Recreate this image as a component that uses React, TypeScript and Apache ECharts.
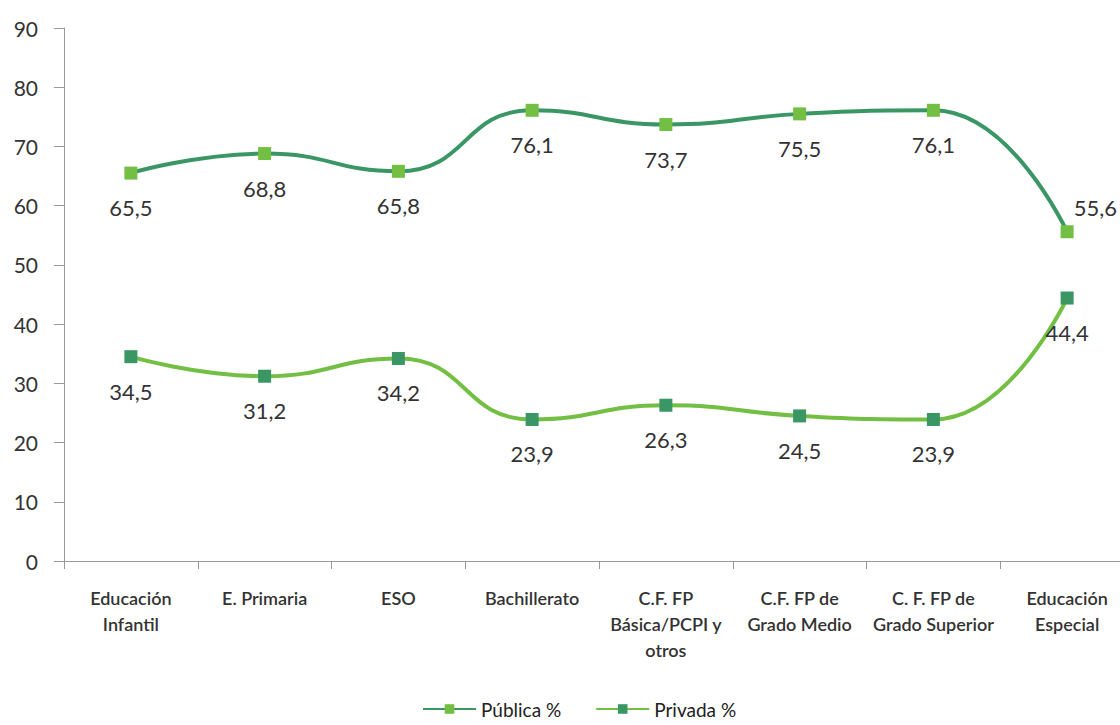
import React, { useEffect, useRef } from "react";
import * as echarts from "echarts";

const categories = [
  "Educación\nInfantil",
  "E. Primaria",
  "ESO",
  "Bachillerato",
  "C.F. FP\nBásica/PCPI y\notros",
  "C.F. FP de\nGrado Medio",
  "C. F. FP de\nGrado Superior",
  "Educación\nEspecial",
];
const publica = [65.5, 68.8, 65.8, 76.1, 73.7, 75.5, 76.1, 55.6];
const privada = [34.5, 31.2, 34.2, 23.9, 26.3, 24.5, 23.9, 44.4];
const seriesNames = ["Pública %", "Privada %"];

const DARK = "#3a9664";
const LIGHT = "#72bf44";
const FONT = "Lato, 'Open Sans', sans-serif";

const fmt = (p: any) => String(p.value).replace(".", ",");

export default function App() {
  const ref = useRef<HTMLDivElement>(null);
  useEffect(() => {
    if (!ref.current) return;
    const chart = echarts.init(ref.current, undefined, { renderer: "svg" });
    const labelBase = {
      show: true,
      position: "bottom" as const,
      distance: 17,
      fontSize: 22,
      fontFamily: FONT,
      color: "#333",
      formatter: fmt,
    };
    const pubData = publica.map((v, i) =>
      i === publica.length - 1
        ? { value: v, label: { position: "right", distance: 0, offset: [0, -24] } }
        : v
    );
    chart.setOption({
      animation: false,
      textStyle: { fontFamily: FONT },
      grid: {
        left: 64,
        top: 28,
        width: 1070,
        height: 533,
        outerBoundsMode: "none",
        containLabel: false,
      },
      legend: {
        data: seriesNames,
        left: 422,
        top: 699,
        padding: 0,
        itemWidth: 53,
        itemHeight: 12,
        itemGap: 34,
        textStyle: { fontSize: 19, fontFamily: FONT, color: "#222", lineHeight: 20 },
      },
      xAxis: {
        type: "category",
        data: categories,
        boundaryGap: true,
        axisLine: { lineStyle: { color: "#999", width: 1 } },
        axisTick: { show: true, length: 8, lineStyle: { color: "#999" } },
        axisLabel: {
          interval: 0,
          margin: 24,
          fontSize: 18,
          fontWeight: 600,
          fontFamily: FONT,
          color: "#333",
          lineHeight: 26,
          hideOverlap: false,
        },
      },
      yAxis: {
        type: "value",
        min: 0,
        max: 90,
        interval: 10,
        splitLine: { show: false },
        axisLine: { show: true, lineStyle: { color: "#999", width: 1 } },
        axisTick: { show: true, length: 10, lineStyle: { color: "#999" } },
        axisLabel: { fontSize: 21, fontFamily: FONT, color: "#333", margin: 26 },
      },
      series: [
        {
          name: seriesNames[0],
          type: "line",
          data: pubData,
          smooth: 0.5,
          symbol: "rect",
          symbolSize: 13,
          itemStyle: { color: LIGHT },
          lineStyle: { color: DARK, width: 4 },
          label: labelBase,
        },
        {
          name: seriesNames[1],
          type: "line",
          data: privada,
          smooth: 0.5,
          symbol: "rect",
          symbolSize: 13,
          itemStyle: { color: DARK },
          lineStyle: { color: LIGHT, width: 4 },
          label: labelBase,
        },
      ],
    });
    return () => chart.dispose();
  }, []);
  return (
    <div
      ref={ref}
      style={{ position: "fixed", left: 0, top: 0, width: 1120, height: 725, background: "#fff" }}
    />
  );
}
